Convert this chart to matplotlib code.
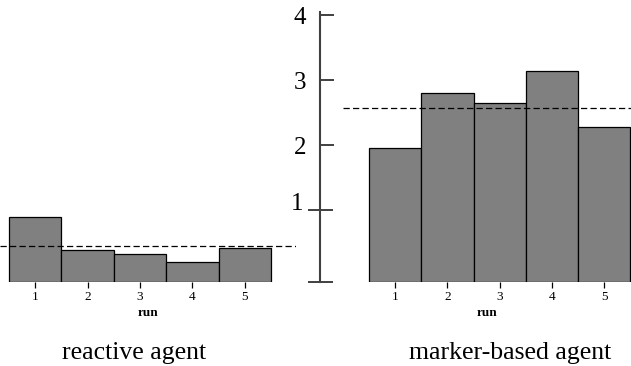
import numpy as np
import matplotlib
matplotlib.use("Agg")
import matplotlib.pyplot as plt

plt.rcParams['font.family'] = ['Liberation Serif', 'DejaVu Serif']

# runs and measured values for both agents
runs = [1, 2, 3, 4, 5]
reactive = [0.89, 0.38, 0.33, 0.20, 0.41]
marker_based = [1.96, 2.80, 2.65, 3.14, 2.27]
axis_ticks = [2, 3, 4]
floor = -0.10   # where the bars sit
top = 4.077

W, H = 631, 366
fig = plt.figure(figsize=(W / 100, H / 100), dpi=100)


def px_rect(x0, y0, x1, y1):
    """Axes rectangle given in pixel coords (origin top-left)."""
    return [x0 / W, 1 - y1 / H, (x1 - x0) / W, (y1 - y0) / H]


def bar_panel(rect, xlim, values):
    ax = fig.add_axes(rect)
    ax.bar(runs, [v - floor for v in values], width=1.0, bottom=floor,
           color='#808080', edgecolor='black', linewidth=0.9)
    ax.axhline(np.mean(values), color='black', linewidth=0.9,
               dashes=(5.0, 2.6))
    ax.set_xlim(*xlim)
    ax.set_ylim(floor, top)
    for s in ax.spines.values():
        s.set_visible(False)
    ax.set_yticks([])
    ax.set_xticks(runs)
    ax.tick_params(axis='x', direction='out', length=4.5, width=0.9,
                   labelsize=9.5, pad=2.5)
    ax.set_xlabel('run', fontsize=9.5, fontweight='bold', labelpad=3)
    ax.patch.set_visible(False)
    return ax


bar_panel(px_rect(0, 10, 296, 281.5), (0.328, 5.977), reactive)
bar_panel(px_rect(343, 10, 631, 281.5), (0.003, 5.51), marker_based)

# shared value axis drawn between the two panels
axc = fig.add_axes(px_rect(320, 10, 321, 281.5))
axc.set_ylim(floor, top)
axc.patch.set_visible(False)
for name, s in axc.spines.items():
    s.set_visible(name == 'left')
axc.spines['left'].set_color('#404040')
axc.spines['left'].set_linewidth(1.5)
axc.spines['left'].set_bounds(floor, 4.05)
axc.set_xticks([])
axc.set_yticks(axis_ticks)
axc.set_yticklabels([str(t) for t in axis_ticks])
axc.set_yticks([floor, 1], minor=True)
axc.set_yticklabels(['', '1'], minor=True)
axc.tick_params(axis='y', which='major', direction='in', length=10,
                width=1.4, color='#404040', labelsize=18, pad=10)
axc.tick_params(axis='y', which='minor', direction='inout', length=18,
                width=1.4, color='#404040', labelsize=18, pad=3)
for lbl in axc.get_yticklabels(minor=True):
    lbl.set_verticalalignment('baseline')

fig.text(134 / W, 1 - 358.5 / H, 'reactive agent', fontsize=18.5,
         ha='center', va='baseline')
fig.text(510 / W, 1 - 359 / H, 'marker-based agent', fontsize=18.5,
         ha='center', va='baseline')

fig.savefig('out.png', dpi=100)
